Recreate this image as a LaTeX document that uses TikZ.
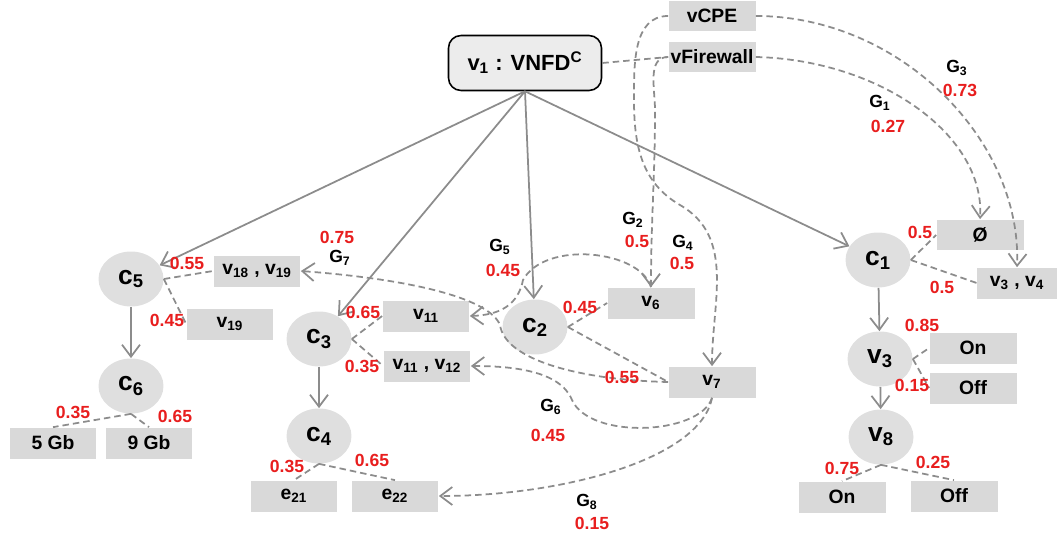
\documentclass[tikz,border=0pt]{standalone}
\usepackage{fontspec}
\setmainfont{Liberation Sans}
\usepackage{xcolor}
\usepackage{tikz}
\usetikzlibrary{shapes.geometric, arrows.meta}
\definecolor{probred}{RGB}{232,30,30}
\definecolor{edgegray}{RGB}{140,140,140}

\begin{document}
\begin{tikzpicture}[
  x=0.02cm, y=-0.02cm,
  font=\bfseries,
  root/.style={draw, rounded corners=2.5mm, line width=0.9pt, fill=gray!15, minimum width=30.6mm, minimum height=11mm, inner sep=0pt, font=\fontsize{12.5}{14}\selectfont\bfseries},
  choice/.style={ellipse, fill=gray!25, minimum width=13mm, minimum height=11mm, inner sep=0pt, font=\fontsize{15}{17}\selectfont\bfseries},
  val/.style={rectangle, fill=gray!30, minimum width=17.4mm, minimum height=6.2mm, inner sep=0pt, font=\fontsize{11}{13}\selectfont\bfseries},
  prob/.style={text=probred, inner sep=0pt, font=\fontsize{10}{12}\selectfont\bfseries},
  grp/.style={inner sep=0pt, font=\fontsize{10}{12}\selectfont\bfseries},
  arr/.style={-{Straight Barb[length=2.4mm,width=3.6mm]}, edgegray, line width=1pt},
  opt/.style={edgegray, line width=1pt, dash pattern=on 1.3mm off 0.8mm},
  dep/.style={opt, -{Straight Barb[length=2.4mm,width=3.6mm]}},
]
\useasboundingbox (0,0) rectangle (1057,537);

% root and features
\node[root] (vnfd) at (525,63) {v\textsubscript{1} : VNFD\textsuperscript{C}};
\node[val] (vcpe) at (712,16) {vCPE};
\node[val] (vfw) at (712,57) {vFirewall};

% choice points
\node[choice] (c5) at (131,279) {c\textsubscript{5}};
\node[choice] (c6) at (131,386) {c\textsubscript{6}};
\node[choice] (c3) at (319,339) {c\textsubscript{3}};
\node[choice] (c4) at (319,436) {c\textsubscript{4}};
\node[choice] (c2) at (535,327) {c\textsubscript{2}};
\node[choice] (c1) at (878,260) {c\textsubscript{1}};
\node[choice] (v3) at (880,359) {v\textsubscript{3}};
\node[choice] (v8) at (881,437) {v\textsubscript{8}};

% values
\node[val] (v1819) at (257,271) {v\textsubscript{18} , v\textsubscript{19}};
\node[val] (v19) at (230,324) {v\textsubscript{19}};
\node[val] (gb5) at (53,443) {5 Gb};
\node[val] (gb9) at (149,443) {9 Gb};
\node[val] (v11) at (426,316) {v\textsubscript{11}};
\node[val] (v1112) at (427,366) {v\textsubscript{11} , v\textsubscript{12}};
\node[val] (e21) at (294,496) {e\textsubscript{21}};
\node[val] (e22) at (395,496) {e\textsubscript{22}};
\node[val] (v6) at (651,303) {v\textsubscript{6}};
\node[val] (v7) at (712,382) {v\textsubscript{7}};
\node[val] (empty) at (980,235) {Ø};
\node[val, minimum width=16mm] (v34) at (1017,283) {v\textsubscript{3} , v\textsubscript{4}};
\node[val] (on3) at (973,348) {On};
\node[val] (off3) at (973,388) {Off};
\node[val] (on8) at (842,497) {On};
\node[val] (off8) at (954,496) {Off};

% structure
\draw[arr] (vnfd.south) -- (c5);
\draw[arr] (vnfd.south) -- (c3);
\draw[arr] (vnfd.south) -- (c2);
\draw[arr] (vnfd.south) -- (c1);
\draw[arr] (c5) -- (c6);
\draw[arr] (c3) -- (c4);
\draw[arr] (c1) -- (v3);
\draw[arr] (v3) -- (v8);

% alternatives
\draw[opt] (vnfd.east) -- (vfw.west);
\draw[opt] (c5.east) -- (v1819.west);
\draw[opt] (c5.east) -- (v19.west);
\draw[opt] (c6.south) -- (gb5.north);
\draw[opt] (c6.south) -- (gb9.north);
\draw[opt] (c3.east) -- (v11.west);
\draw[opt] (c3.east) -- (v1112.west);
\draw[opt] (c4.south) -- (e21.north);
\draw[opt] (c4.south) -- (e22.north);
\draw[opt] (c2.east) -- (v6.west);
\draw[opt] (c2.east) -- (v7.west);
\draw[opt] (c1.east) -- (empty.west);
\draw[opt] (c1.east) -- (v34.west);
\draw[opt] (v3.east) -- (on3.west);
\draw[opt] (v3.east) -- (off3.west);
\draw[opt] (v8.south) -- (on8.north);
\draw[opt] (v8.south) -- (off8.north);

% dependencies
\draw[dep] (vfw.east) .. controls (880,60) and (985,135) .. (empty.north);
\draw[dep] (vcpe.east) .. controls (900,16) and (1022,140) .. (v34.north);
\draw[dep] (vfw.west) to[out=180,in=90] (655,110) to[out=-90,in=90] (v6.north);
\draw[dep] (vcpe.west) to[out=180,in=90] (634,100) to[out=-90,in=150] (680,205) to[out=-30,in=90] (v7.north);
\draw[dep] (v6.north) .. controls (640,250) and (545,240) .. (523,280) .. controls (518,305) and (500,315) .. (v11.east);
\draw[dep] (v7.west) .. controls (580,380) and (505,360) .. (500,325) .. controls (490,300) and (420,280) .. (v1819.east);
\draw[dep] (v7.south) .. controls (700,435) and (590,440) .. (572,400) .. controls (560,370) and (510,366) .. (v1112.east);
\draw[dep] (v7.south) .. controls (700,460) and (560,496) .. (e22.east);

% group labels
\node[grp] (g1) at (880,103) {G\textsubscript{1}};
\node[prob] (g1p) at (888,126) {0.27};
\node[grp] (g3) at (957,68) {G\textsubscript{3}};
\node[prob] (g3p) at (960,90) {0.73};
\node[grp] (g2) at (633,220) {G\textsubscript{2}};
\node[prob] (g2p) at (637,241) {0.5};
\node[grp] (g4) at (683,243) {G\textsubscript{4}};
\node[prob] (g4p) at (682,263) {0.5};
\node[grp] (g5) at (500,247) {G\textsubscript{5}};
\node[prob] (g5p) at (503,270) {0.45};
\node[grp] (g7) at (340,258) {G\textsubscript{7}};
\node[prob] (g7p) at (337,237) {0.75};
\node[grp] (g6) at (551,407) {G\textsubscript{6}};
\node[prob] (g6p) at (548,435) {0.45};
\node[grp] (g8) at (587,502) {G\textsubscript{8}};
\node[prob] (g8p) at (592,523) {0.15};

% branch probabilities
\node[prob] (c5a) at (187,263) {0.55};
\node[prob] (c5b) at (167,320) {0.45};
\node[prob] (c6a) at (73,412) {0.35};
\node[prob] (c6b) at (175,416) {0.65};
\node[prob] (c3a) at (363,312) {0.65};
\node[prob] (c3b) at (362,366) {0.35};
\node[prob] (c4a) at (287,466) {0.35};
\node[prob] (c4b) at (372,460) {0.65};
\node[prob] (c2a) at (580,307) {0.45};
\node[prob] (c2b) at (622,377) {0.55};
\node[prob] (c1a) at (920,232) {0.5};
\node[prob] (c1b) at (942,287) {0.5};
\node[prob] (v3a) at (922,325) {0.85};
\node[prob] (v3b) at (912,385) {0.15};
\node[prob] (v8a) at (842,468) {0.75};
\node[prob] (v8b) at (933,462) {0.25};
\end{tikzpicture}
\end{document}
